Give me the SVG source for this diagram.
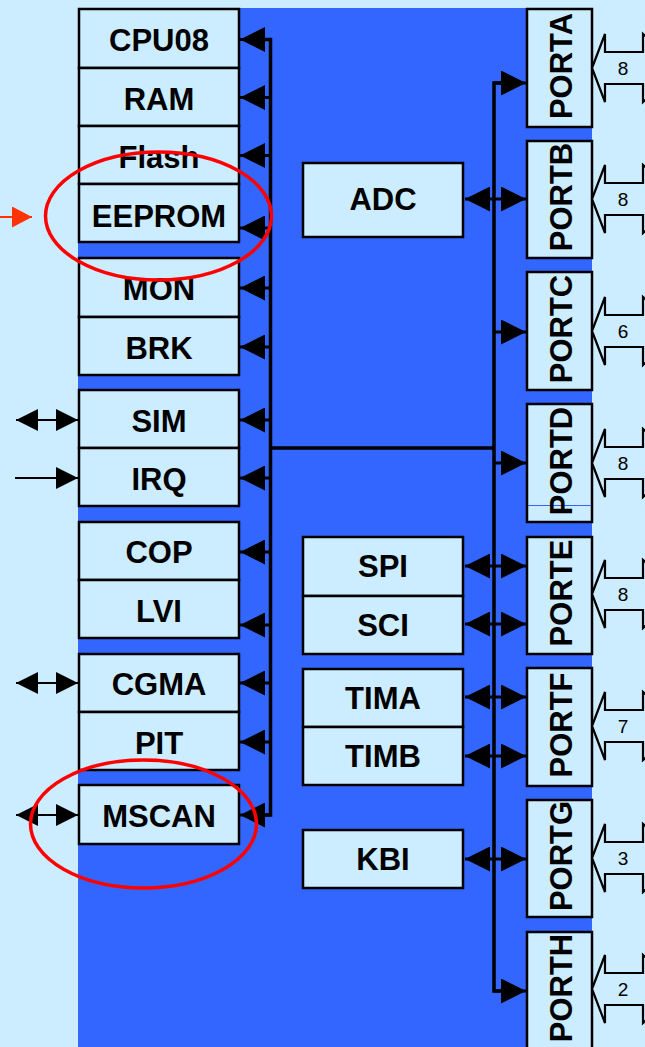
<svg xmlns="http://www.w3.org/2000/svg" xmlns:xlink="http://www.w3.org/1999/xlink" width="645" height="1047" viewBox="0 0 645 1047">
<style>
.box{fill:#CCECFF;stroke:#000;stroke-width:2.5}
.lbl{font-family:"Liberation Sans",Arial,sans-serif;font-weight:bold;font-size:31px;fill:#000;text-anchor:middle}
.num{font-family:"Liberation Sans",Arial,sans-serif;font-size:19px;fill:#000;text-anchor:middle}
.bus{fill:none;stroke:#000;stroke-width:3.5}
.ln{fill:none;stroke:#000;stroke-width:3}
.thin{fill:none;stroke:#000;stroke-width:2}
.ba{fill:#CCECFF;stroke:#000;stroke-width:2.2;stroke-linejoin:miter}
.ell{fill:none;stroke:#FF0000;stroke-width:3.5}
</style>
<defs>
<marker id="ah" viewBox="0 0 25 25" markerWidth="25" markerHeight="25" refX="25" refY="12.5" orient="auto-start-reverse" markerUnits="userSpaceOnUse"><path d="M0,0 L25,12.5 L0,25 Z" fill="#000"/></marker>
<marker id="sh" viewBox="0 0 22 22" markerWidth="22" markerHeight="22" refX="22" refY="11" orient="auto-start-reverse" markerUnits="userSpaceOnUse"><path d="M0,0 L22,11 L0,22 Z" fill="#000"/></marker>
<marker id="oh" viewBox="0 0 20 21" markerWidth="20" markerHeight="21" refX="20" refY="10.5" orient="auto" markerUnits="userSpaceOnUse"><path d="M0,0 L20,10.5 L0,21 Z" fill="#FF3300"/></marker>
<path id="busarrow" d="M592,0 L605,-34 L605,-16 L643,-16 L643,-34 L680,0 L643,34 L643,16 L605,16 L605,34 Z"/>
</defs>
<rect x="0" y="0" width="645" height="1047" fill="#CCECFF"/>
<rect x="78" y="8" width="514" height="1039" fill="#3366FF"/>

<g id="CPU08"><rect class="box" x="79" y="9" width="160" height="59"/><text class="lbl" x="159" y="51">CPU08</text></g>
<g id="RAM"><rect class="box" x="79" y="68" width="160" height="58"/><text class="lbl" x="159" y="110">RAM</text></g>
<g id="Flash"><rect class="box" x="79" y="126" width="160" height="58"/><text class="lbl" x="159" y="168">Flash</text></g>
<g id="EEPROM"><rect class="box" x="79" y="184" width="160" height="58"/><text class="lbl" x="159" y="227">EEPROM</text></g>
<g id="MON"><rect class="box" x="79" y="258" width="160" height="59"/><text class="lbl" x="159" y="300">MON</text></g>
<g id="BRK"><rect class="box" x="79" y="317" width="160" height="58"/><text class="lbl" x="159" y="359">BRK</text></g>
<g id="SIM"><rect class="box" x="79" y="390" width="160" height="58"/><text class="lbl" x="159" y="432">SIM</text></g>
<g id="IRQ"><rect class="box" x="79" y="448" width="160" height="58"/><text class="lbl" x="159" y="490">IRQ</text></g>
<g id="COP"><rect class="box" x="79" y="522" width="160" height="58"/><text class="lbl" x="159" y="563">COP</text></g>
<g id="LVI"><rect class="box" x="79" y="580" width="160" height="58"/><text class="lbl" x="159" y="622">LVI</text></g>
<g id="CGMA"><rect class="box" x="79" y="654" width="160" height="58"/><text class="lbl" x="159" y="695">CGMA</text></g>
<g id="PIT"><rect class="box" x="79" y="712" width="160" height="58"/><text class="lbl" x="159" y="754">PIT</text></g>
<g id="MSCAN"><rect class="box" x="79" y="785" width="160" height="59"/><text class="lbl" x="159" y="827">MSCAN</text></g>

<g id="ADC"><rect class="box" x="303" y="163" width="160" height="74"/><text class="lbl" x="383" y="210">ADC</text></g>
<g id="SPI"><rect class="box" x="303" y="537" width="160" height="59"/><text class="lbl" x="383" y="577">SPI</text></g>
<g id="SCI"><rect class="box" x="303" y="596" width="160" height="58"/><text class="lbl" x="383" y="636">SCI</text></g>
<g id="TIMA"><rect class="box" x="303" y="669" width="160" height="58"/><text class="lbl" x="383" y="709">TIMA</text></g>
<g id="TIMB"><rect class="box" x="303" y="727" width="160" height="58"/><text class="lbl" x="383" y="767">TIMB</text></g>
<g id="KBI"><rect class="box" x="303" y="830" width="160" height="58"/><text class="lbl" x="383" y="870">KBI</text></g>

<g id="PORTA"><rect class="box" x="527" y="9" width="65" height="118"/><text class="lbl" transform="translate(571.5,66) rotate(-90)">PORTA</text></g>
<g id="PORTB"><rect class="box" x="527" y="141" width="65" height="117"/><text class="lbl" transform="translate(571.5,197) rotate(-90)">PORTB</text></g>
<g id="PORTC"><rect class="box" x="527" y="272" width="65" height="118"/><text class="lbl" transform="translate(571.5,329) rotate(-90)">PORTC</text></g>
<g id="PORTD"><rect class="box" x="527" y="404" width="65" height="118"/><line x1="528" y1="505.5" x2="591" y2="505.5" stroke="#3366FF" stroke-width="1"/><text class="lbl" transform="translate(571.5,461) rotate(-90)">PORTD</text></g>
<g id="PORTE"><rect class="box" x="527" y="537" width="65" height="117"/><text class="lbl" transform="translate(571.5,593) rotate(-90)">PORTE</text></g>
<g id="PORTF"><rect class="box" x="527" y="668" width="65" height="118"/><text class="lbl" transform="translate(571.5,725) rotate(-90)">PORTF</text></g>
<g id="PORTG"><rect class="box" x="527" y="800" width="65" height="117"/><text class="lbl" transform="translate(571.5,856) rotate(-90)">PORTG</text></g>
<g id="PORTH"><rect class="box" x="527" y="932" width="65" height="130"/><text class="lbl" transform="translate(571.5,988) rotate(-90)">PORTH</text></g>

<g id="connectors">
<path class="bus" d="M265,39.5 L270.5,39.5 L270.5,815 L265,815"/>
<path class="bus" d="M270.5,448 L494,448"/>
<path class="bus" d="M502,83 L494,83 L494,991 L502,991"/>
<g class="ln">
<path d="M270,39.5 L240,39.5" marker-end="url(#ah)"/>
<path d="M270,97.5 L240,97.5" marker-end="url(#ah)"/>
<path d="M270,155.5 L240,155.5" marker-end="url(#ah)"/>
<path d="M270,228 L240,228" marker-end="url(#ah)"/>
<path d="M270,288 L240,288" marker-end="url(#ah)"/>
<path d="M270,347 L240,347" marker-end="url(#ah)"/>
<path d="M270,420 L240,420" marker-end="url(#ah)"/>
<path d="M270,478 L240,478" marker-end="url(#ah)"/>
<path d="M270,552 L240,552" marker-end="url(#ah)"/>
<path d="M270,625 L240,625" marker-end="url(#ah)"/>
<path d="M270,683 L240,683" marker-end="url(#ah)"/>
<path d="M270,742 L240,742" marker-end="url(#ah)"/>
<path d="M270,815 L240,815" marker-end="url(#ah)"/>
<path d="M494,83 L526,83" marker-end="url(#ah)"/>
<path d="M494,332 L526,332" marker-end="url(#ah)"/>
<path d="M494,463 L526,463" marker-end="url(#ah)"/>
<path d="M494,991 L526,991" marker-end="url(#ah)"/>
<path d="M465,199 L526,199" marker-start="url(#ah)" marker-end="url(#ah)"/>
<path d="M465,566 L526,566" marker-start="url(#ah)" marker-end="url(#ah)"/>
<path d="M465,624 L526,624" marker-start="url(#ah)" marker-end="url(#ah)"/>
<path d="M465,697 L526,697" marker-start="url(#ah)" marker-end="url(#ah)"/>
<path d="M465,756 L526,756" marker-start="url(#ah)" marker-end="url(#ah)"/>
<path d="M465,859 L526,859" marker-start="url(#ah)" marker-end="url(#ah)"/>
</g>
<g class="thin">
<path d="M16,420 L78,420" marker-start="url(#sh)" marker-end="url(#sh)"/>
<path d="M15,478 L78,478" marker-end="url(#sh)"/>
<path d="M16,683 L78,683" marker-start="url(#sh)" marker-end="url(#sh)"/>
<path d="M16,815 L78,815" marker-start="url(#sh)" marker-end="url(#sh)"/>
</g>
<path d="M0,217 L32,217" stroke="#FF3300" stroke-width="2" marker-end="url(#oh)"/>
<g class="ba">
<use xlink:href="#busarrow" y="68"/>
<use xlink:href="#busarrow" y="199"/>
<use xlink:href="#busarrow" y="331"/>
<use xlink:href="#busarrow" y="463"/>
<use xlink:href="#busarrow" y="594"/>
<use xlink:href="#busarrow" y="726"/>
<use xlink:href="#busarrow" y="858"/>
<use xlink:href="#busarrow" y="989"/>
</g>
<text class="num" x="623" y="75">8</text>
<text class="num" x="623" y="206">8</text>
<text class="num" x="623" y="338">6</text>
<text class="num" x="623" y="470">8</text>
<text class="num" x="623" y="601">8</text>
<text class="num" x="623" y="733">7</text>
<text class="num" x="623" y="865">3</text>
<text class="num" x="623" y="996">2</text>
</g>

<ellipse class="ell" cx="158.5" cy="216" rx="113" ry="64"/>
<ellipse class="ell" cx="143.5" cy="824" rx="113" ry="64"/>
</svg>
